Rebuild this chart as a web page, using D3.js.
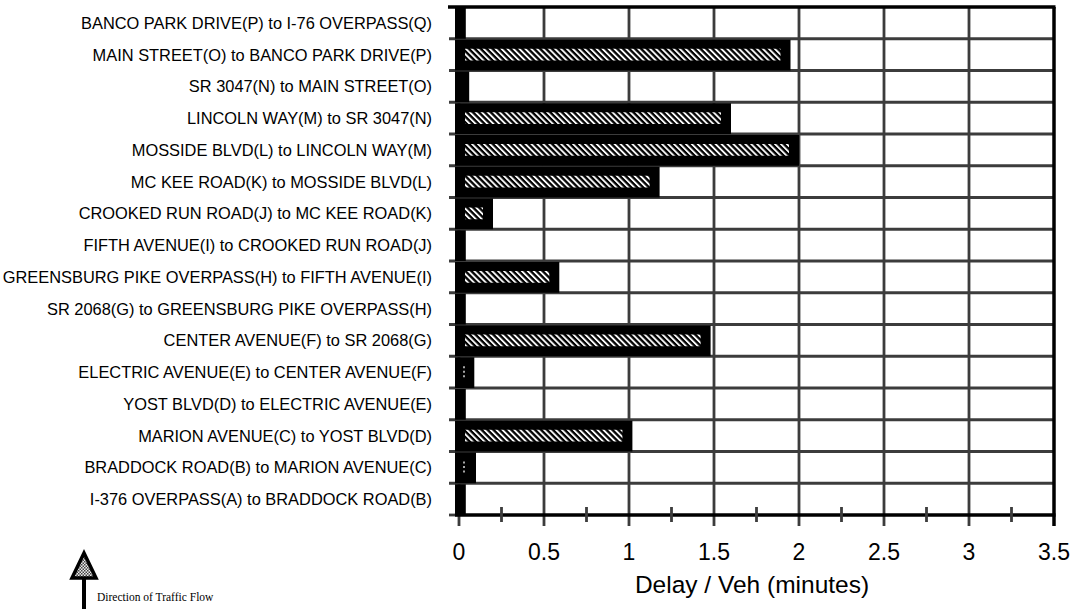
<!DOCTYPE html>
<html>
<head>
<meta charset="utf-8">
<script src="https://cdn.jsdelivr.net/npm/d3@7"></script>
<style>
  body { margin: 0; background: #fff; }
  svg { display: block; }
</style>
</head>
<body>
<div id="chart"></div>
<script>
// segments, listed top to bottom as in the chart
var segments = [
  "BANCO PARK DRIVE(P) to I-76 OVERPASS(Q)",
  "MAIN STREET(O) to BANCO PARK DRIVE(P)",
  "SR 3047(N) to MAIN STREET(O)",
  "LINCOLN WAY(M) to SR 3047(N)",
  "MOSSIDE BLVD(L) to LINCOLN WAY(M)",
  "MC KEE ROAD(K) to MOSSIDE BLVD(L)",
  "CROOKED RUN ROAD(J) to MC KEE ROAD(K)",
  "FIFTH AVENUE(I) to CROOKED RUN ROAD(J)",
  "GREENSBURG PIKE OVERPASS(H) to FIFTH AVENUE(I)",
  "SR 2068(G) to GREENSBURG PIKE OVERPASS(H)",
  "CENTER AVENUE(F) to SR 2068(G)",
  "ELECTRIC AVENUE(E) to CENTER AVENUE(F)",
  "YOST BLVD(D) to ELECTRIC AVENUE(E)",
  "MARION AVENUE(C) to YOST BLVD(D)",
  "BRADDOCK ROAD(B) to MARION AVENUE(C)",
  "I-376 OVERPASS(A) to BRADDOCK ROAD(B)"
];
// delay per vehicle, minutes
var delays = [0.04, 1.95, 0.06, 1.6, 2.0, 1.18, 0.2, 0.04, 0.59, 0.04, 1.48, 0.09, 0.04, 1.02, 0.1, 0.04];
var xTicks = [0, 0.5, 1, 1.5, 2, 2.5, 3, 3.5];
var xMinor = [0.25, 0.75, 1.25, 1.75, 2.25, 2.75, 3.25];

var W = 1073, H = 609;
var pLeft = 459, pRight = 1054, pTop = 7, pBottom = 515;

var svg = d3.select("#chart").append("svg")
  .attr("width", W).attr("height", H);

var defs = svg.append("defs");
defs.append("pattern")
  .attr("id", "hatch")
  .attr("patternUnits", "userSpaceOnUse")
  .attr("width", 4.2).attr("height", 4.2)
  .attr("patternTransform", "rotate(-45)")
  .call(function(p) {
    p.append("rect").attr("width", 4.2).attr("height", 4.2).attr("fill", "#000");
    p.append("rect").attr("x", 0).attr("width", 1.9).attr("height", 4.2).attr("fill", "#fafafa");
  });
defs.append("pattern")
  .attr("id", "dots")
  .attr("patternUnits", "userSpaceOnUse")
  .attr("width", 3).attr("height", 3)
  .call(function(p) {
    p.append("rect").attr("width", 3).attr("height", 3).attr("fill", "#eee");
    p.append("rect").attr("width", 1.5).attr("height", 1.5).attr("fill", "#444");
    p.append("rect").attr("x", 1.5).attr("y", 1.5).attr("width", 1.5).attr("height", 1.5).attr("fill", "#444");
  });

var x = d3.scaleLinear().domain([0, 3.5]).range([pLeft, pRight]);
var y = d3.scaleBand().domain(segments).range([pTop, pBottom]).padding(0);

var grid = "#3c3c3c";

// horizontal gridlines (row boundaries), extended left as ticks
svg.append("g").selectAll("line")
  .data(segments.slice(1))
  .enter().append("line")
  .attr("x1", pLeft - 10).attr("x2", pRight)
  .attr("y1", function(d) { return y(d); })
  .attr("y2", function(d) { return y(d); })
  .attr("stroke", grid).attr("stroke-width", 2.8);

// bottom-left tick
svg.append("line")
  .attr("x1", pLeft - 10).attr("x2", pLeft)
  .attr("y1", pBottom).attr("y2", pBottom)
  .attr("stroke", grid).attr("stroke-width", 2.8);

// vertical gridlines, extending below the axis as ticks
svg.append("g").selectAll("line")
  .data(xTicks.slice(0, -1))
  .enter().append("line")
  .attr("x1", function(d) { return x(d); })
  .attr("x2", function(d) { return x(d); })
  .attr("y1", pTop).attr("y2", pBottom + 11)
  .attr("stroke", grid).attr("stroke-width", 2.8);

// outer frame: top, right
svg.append("line").attr("x1", pLeft - 11).attr("x2", pRight + 1.5)
  .attr("y1", pTop).attr("y2", pTop).attr("stroke", "#000").attr("stroke-width", 3.5);
svg.append("line").attr("x1", pRight).attr("x2", pRight)
  .attr("y1", pTop).attr("y2", pBottom + 11).attr("stroke", "#000").attr("stroke-width", 3.5);

// bars
var bars = svg.append("g").selectAll("g")
  .data(segments)
  .enter().append("g");

bars.append("rect")
  .attr("x", pLeft - 4)
  .attr("y", function(d) { return y(d) + 1; })
  .attr("width", function(d, i) { return x(delays[i]) - pLeft + 4; })
  .attr("height", y.bandwidth() - 1)
  .attr("fill", "#000");

bars.filter(function(d, i) { return x(delays[i]) - pLeft - 16 > 2; })
  .append("rect")
  .attr("x", pLeft + 6)
  .attr("y", function(d) { return y(d) + 10; })
  .attr("width", function(d) { return x(delays[segments.indexOf(d)]) - pLeft - 16; })
  .attr("height", y.bandwidth() - 20)
  .attr("fill", "url(#hatch)");

// short bars only show a dotted stub
bars.filter(function(d, i) { var w = x(delays[i]) - pLeft; return w >= 12 && w - 16 <= 2; })
  .append("line")
  .attr("x1", pLeft + 5).attr("x2", pLeft + 5)
  .attr("y1", function(d) { return y(d) + 10; })
  .attr("y2", function(d) { return y(d) + y.bandwidth() - 9; })
  .attr("stroke", "#ddd").attr("stroke-width", 1.5)
  .attr("stroke-dasharray", "2,2.5");

// bottom axis line
svg.append("line").attr("x1", pLeft - 4).attr("x2", pRight + 1.5)
  .attr("y1", pBottom).attr("y2", pBottom).attr("stroke", "#000").attr("stroke-width", 3.5);

// minor ticks crossing the axis
svg.append("g").selectAll("line")
  .data(xMinor)
  .enter().append("line")
  .attr("x1", function(d) { return x(d); })
  .attr("x2", function(d) { return x(d); })
  .attr("y1", pBottom - 8).attr("y2", pBottom + 7)
  .attr("stroke", grid).attr("stroke-width", 2.8);

// category labels
svg.append("g").selectAll("text")
  .data(segments)
  .enter().append("text")
  .attr("x", 432)
  .attr("y", function(d) { return y(d) + y.bandwidth() / 2; })
  .attr("dy", "0.36em")
  .attr("text-anchor", "end")
  .attr("font-family", "Liberation Sans, Arial, sans-serif")
  .attr("font-size", "16.4px")
  .attr("fill", "#000")
  .text(function(d) { return d; });

// x tick labels
svg.append("g").selectAll("text")
  .data(xTicks)
  .enter().append("text")
  .attr("x", function(d) { return x(d); })
  .attr("y", 560)
  .attr("text-anchor", "middle")
  .attr("font-family", "Liberation Sans, Arial, sans-serif")
  .attr("font-size", "23px")
  .text(function(d) { return d; });

svg.append("text")
  .attr("x", 752).attr("y", 593)
  .attr("text-anchor", "middle")
  .attr("font-family", "Liberation Sans, Arial, sans-serif")
  .attr("font-size", "24.5px")
  .text("Delay / Veh (minutes)");

// direction of traffic flow arrow
svg.append("line").attr("x1", 84).attr("x2", 84).attr("y1", 577).attr("y2", 609)
  .attr("stroke", "#000").attr("stroke-width", 4);
svg.append("path")
  .attr("d", "M84,553 L96,578 L72,578 Z")
  .attr("fill", "url(#dots)")
  .attr("stroke", "#000").attr("stroke-width", 3.5).attr("stroke-linejoin", "miter");
svg.append("text")
  .attr("x", 97).attr("y", 601)
  .attr("font-family", "Liberation Serif, Times New Roman, serif")
  .attr("font-size", "11.5px")
  .text("Direction of Traffic Flow");
</script>
</body>
</html>
